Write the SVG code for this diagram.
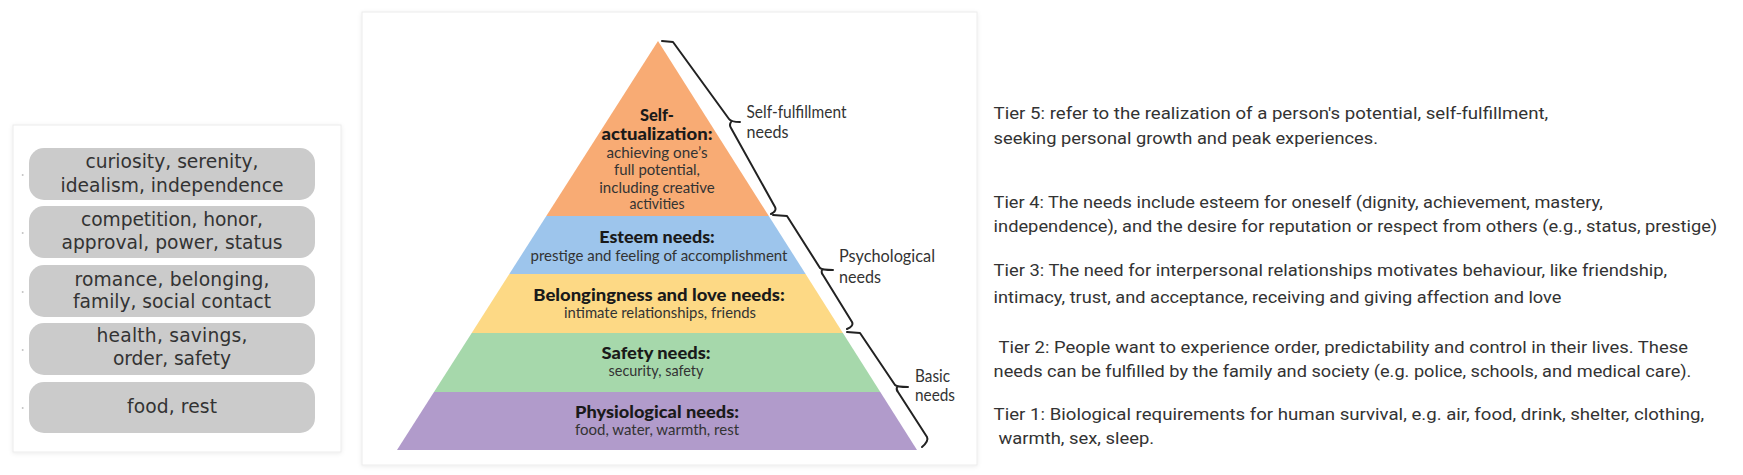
<svg xmlns="http://www.w3.org/2000/svg" width="1743" height="475" viewBox="0 0 1743 475">
<defs>
<filter id="sh" x="-5%" y="-5%" width="110%" height="110%">
<feDropShadow dx="0" dy="1" stdDeviation="2" flood-color="#000" flood-opacity="0.08"/>
</filter>
</defs>
<style>
.panel{fill:#fff;stroke:#ececec;stroke-width:1;filter:url(#sh)}
.box{fill:#cbcbcb}
.bt{font-family:"DejaVu Sans",Verdana,sans-serif;font-size:18.7px;fill:#333;text-anchor:middle}
.dot{fill:#c4c4c4}
.ph{font-family:Lato,"Liberation Sans",sans-serif;font-weight:900;font-size:16px;fill:#1a1a1a;text-anchor:middle}
.pb{font-family:Lato,"Liberation Sans",sans-serif;font-size:15px;fill:#333;text-anchor:middle}
.lab{font-family:Lato,"Liberation Sans",sans-serif;font-size:17px;fill:#333}
.rt{font-family:Roboto,"Liberation Sans",sans-serif;font-size:16.5px;fill:#333}
.br{fill:none;stroke:#222;stroke-width:2;stroke-linejoin:round;stroke-linecap:round}
</style>
<rect width="1743" height="475" fill="#fff"/>

<!-- left panel -->
<rect class="panel" x="13" y="125" width="328" height="327"/>
<g id="box5">
<rect class="box" x="29" y="148" width="286" height="52" rx="15"/>
<circle class="dot" cx="22.7" cy="175" r="1"/>
<text class="bt" x="172" y="168.3" textLength="173">curiosity, serenity,</text>
<text class="bt" x="172" y="191.7" textLength="223">idealism, independence</text>
</g>
<g id="box4">
<rect class="box" x="29" y="206" width="286" height="52" rx="15"/>
<circle class="dot" cx="22.7" cy="233" r="1"/>
<text class="bt" x="172" y="226" textLength="182">competition, honor,</text>
<text class="bt" x="172" y="249.3" textLength="221">approval, power, status</text>
</g>
<g id="box3">
<rect class="box" x="29" y="265" width="286" height="52" rx="15"/>
<circle class="dot" cx="22.7" cy="292" r="1"/>
<text class="bt" x="172" y="285.7" textLength="195">romance, belonging,</text>
<text class="bt" x="172" y="308.3" textLength="198">family, social contact</text>
</g>
<g id="box2">
<rect class="box" x="29" y="323" width="286" height="52" rx="15"/>
<circle class="dot" cx="22.7" cy="350" r="1"/>
<text class="bt" x="172" y="341.7" textLength="151">health, savings,</text>
<text class="bt" x="172" y="365" textLength="118">order, safety</text>
</g>
<g id="box1">
<rect class="box" x="29" y="382" width="286" height="51" rx="15"/>
<circle class="dot" cx="22.7" cy="408" r="1"/>
<text class="bt" x="172" y="413.3" textLength="90">food, rest</text>
</g>

<!-- pyramid panel -->
<rect class="panel" x="362" y="12" width="615" height="453"/>
<g id="tier5">
<polygon points="658,41 768.8,216 546.3,216" fill="#f8ab74"/>
<text class="ph" x="657" y="121" textLength="34" lengthAdjust="spacingAndGlyphs">Self-</text>
<text class="ph" x="657" y="140" textLength="111" lengthAdjust="spacingAndGlyphs">actualization:</text>
<text class="pb" x="657" y="157.7" textLength="101" lengthAdjust="spacingAndGlyphs">achieving one’s</text>
<text class="pb" x="657" y="175" textLength="86" lengthAdjust="spacingAndGlyphs">full potential,</text>
<text class="pb" x="657" y="192.7" textLength="115.5" lengthAdjust="spacingAndGlyphs">including creative</text>
<text class="pb" x="657" y="208.5" textLength="55" lengthAdjust="spacingAndGlyphs">activities</text>
</g>
<g id="tier4">
<polygon points="546.3,216 768.8,216 805.6,274 509.3,274" fill="#9dc5ec"/>
<text class="ph" x="657" y="243" textLength="115.5" lengthAdjust="spacingAndGlyphs">Esteem needs:</text>
<text class="pb" x="659" y="260.5" textLength="257" lengthAdjust="spacingAndGlyphs">prestige and feeling of accomplishment</text>
</g>
<g id="tier3">
<polygon points="509.3,274 805.6,274 842.9,333 471.7,333" fill="#fdd985"/>
<text class="ph" x="659" y="300.5" textLength="251.5" lengthAdjust="spacingAndGlyphs">Belongingness and love needs:</text>
<text class="pb" x="660" y="317.5" textLength="192" lengthAdjust="spacingAndGlyphs">intimate relationships, friends</text>
</g>
<g id="tier2">
<polygon points="471.7,333 842.9,333 880.3,392 434,392" fill="#a6d8ab"/>
<text class="ph" x="656" y="358.5" textLength="109" lengthAdjust="spacingAndGlyphs">Safety needs:</text>
<text class="pb" x="656" y="375.5" textLength="95" lengthAdjust="spacingAndGlyphs">security, safety</text>
</g>
<g id="tier1">
<polygon points="434,392 880.3,392 917,450 397,450" fill="#b19bcb"/>
<text class="ph" x="657" y="418" textLength="164" lengthAdjust="spacingAndGlyphs">Physiological needs:</text>
<text class="pb" x="657" y="435" textLength="164" lengthAdjust="spacingAndGlyphs">food, water, warmth, rest</text>
</g>

<g id="connectors">
<path class="br" d="M662,41 L673,42 L729,119 Q731,122 740,122 M731,122 Q729,125 731,128 L775,207 Q777,211 771,214"/>
<path class="br" d="M773,215 L787,216 L820,268 Q822,270 833,270 M822,270 Q821,273 823,275 L852,322 Q854,326 847,329"/>
<path class="br" d="M847,332 L860,333 L895,385 Q897,387 908,387 M897,387 Q896,390 898,392 L927,437 Q929,441 922,447"/>
</g>

<g id="label-self">
<text class="lab" x="746.5" y="118.3" textLength="100" lengthAdjust="spacingAndGlyphs">Self-fulfillment</text>
<text class="lab" x="746.5" y="138.3" textLength="42" lengthAdjust="spacingAndGlyphs">needs</text>
</g>
<g id="label-psych">
<text class="lab" x="839" y="261.7" textLength="96" lengthAdjust="spacingAndGlyphs">Psychological</text>
<text class="lab" x="839" y="282.7" textLength="42" lengthAdjust="spacingAndGlyphs">needs</text>
</g>
<g id="label-basic">
<text class="lab" x="915" y="381.7" textLength="35" lengthAdjust="spacingAndGlyphs">Basic</text>
<text class="lab" x="915" y="401" textLength="40" lengthAdjust="spacingAndGlyphs">needs</text>
</g>

<!-- right descriptions -->
<g id="desc5">
<text class="rt" x="993.6" y="119" textLength="554.7" lengthAdjust="spacingAndGlyphs">Tier 5: refer to the realization of a person's potential, self-fulfillment,</text>
<text class="rt" x="993.6" y="144" textLength="384.4" lengthAdjust="spacingAndGlyphs">seeking personal growth and peak experiences.</text>
</g>
<g id="desc4">
<text class="rt" x="993.6" y="208" textLength="609.2" lengthAdjust="spacingAndGlyphs">Tier 4: The needs include esteem for oneself (dignity, achievement, mastery,</text>
<text class="rt" x="993.6" y="232" textLength="723.6" lengthAdjust="spacingAndGlyphs">independence), and the desire for reputation or respect from others (e.g., status, prestige)</text>
</g>
<g id="desc3">
<text class="rt" x="993.6" y="276" textLength="673.5" lengthAdjust="spacingAndGlyphs">Tier 3: The need for interpersonal relationships motivates behaviour, like friendship,</text>
<text class="rt" x="993.6" y="302.7" textLength="567.9" lengthAdjust="spacingAndGlyphs">intimacy, trust, and acceptance, receiving and giving affection and love</text>
</g>
<g id="desc2">
<text class="rt" x="998.5" y="352.7" textLength="689.5" lengthAdjust="spacingAndGlyphs">Tier 2: People want to experience order, predictability and control in their lives. These</text>
<text class="rt" x="993.6" y="376.7" textLength="697.8" lengthAdjust="spacingAndGlyphs">needs can be fulfilled by the family and society (e.g. police, schools, and medical care).</text>
</g>
<g id="desc1">
<text class="rt" x="993.6" y="420" textLength="710.5" lengthAdjust="spacingAndGlyphs">Tier 1: Biological requirements for human survival, e.g. air, food, drink, shelter, clothing,</text>
<text class="rt" x="998.5" y="444" textLength="155.7" lengthAdjust="spacingAndGlyphs">warmth, sex, sleep.</text>
</g>
</svg>
